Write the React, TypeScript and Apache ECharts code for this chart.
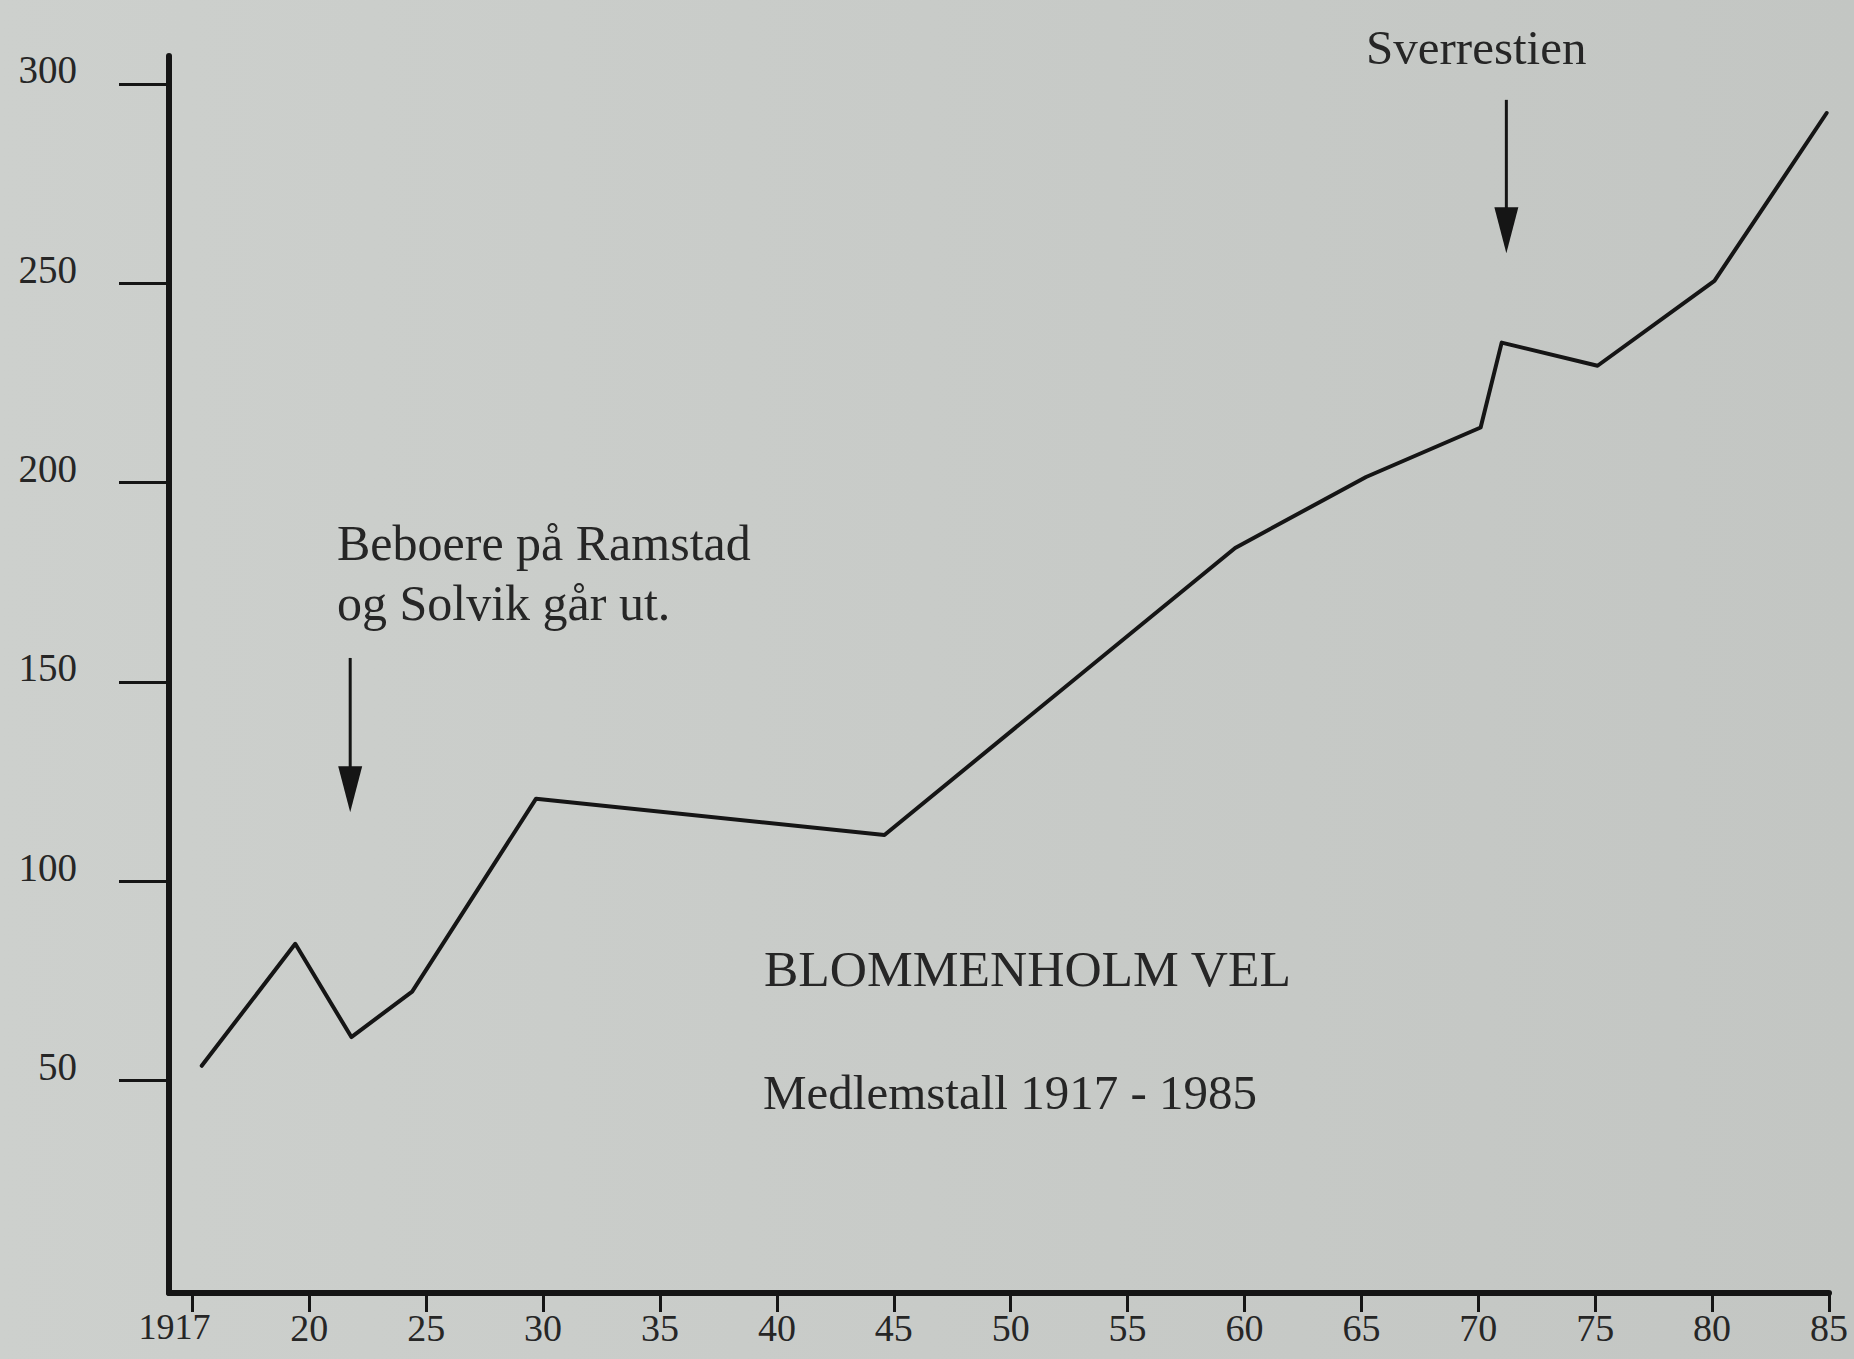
import React, { useEffect, useRef } from "react";
import * as echarts from "echarts";

// Data (year position, number of members)
const years = [1915.4, 1919.4, 1921.8, 1924.4, 1929.7, 1944.6, 1959.6, 1965.2, 1970.1, 1971.0, 1975.1, 1980.1, 1984.9];
const members = [53.7, 84.3, 60.9, 72.3, 120.7, 111.6, 183.6, 201.4, 213.8, 235.1, 229.3, 250.6, 292.7];

// Axis ticks and labels as printed
const xTickValues = [1915, 1920, 1925, 1930, 1935, 1940, 1945, 1950, 1955, 1960, 1965, 1970, 1975, 1980, 1985];
const xTickLabels = ["1917", "20", "25", "30", "35", "40", "45", "50", "55", "60", "65", "70", "75", "80", "85"];
const yTickValues = [50, 100, 150, 200, 250, 300];

// Annotations
const titleLines = ["BLOMMENHOLM VEL", "Medlemstall 1917 - 1985"];
const noteLeft = ["Beboere på Ramstad", "og Solvik går ut."];
const noteRight = "Sverrestien";
const arrowLeft = { x: 1921.75, from: 156, to: 117.3 };
const arrowRight = { x: 1971.2, from: 296, to: 257.5 };

const FONT = "'Liberation Serif', 'Times New Roman', serif";
const INK = "#151515";
const TEXT = "#262626";

export default function App() {
  const ref = useRef<HTMLDivElement>(null);

  useEffect(() => {
    if (!ref.current) return;
    const chart = echarts.init(ref.current, null, { renderer: "svg" });
    const data = years.map((y, i) => [y, members[i]]);

    chart.setOption({
      animation: false,
      backgroundColor: {
        type: "linear",
        x: 0, y: 0, x2: 1, y2: 0,
        colorStops: [
          { offset: 0, color: "#cdd0cd" },
          { offset: 1, color: "#c3c6c3" },
        ],
      },
      grid: { left: 169, right: 25, top: 56, bottom: 66, containLabel: false },
      xAxis: {
        type: "value",
        min: 1914,
        max: 1985,
        axisLine: { show: true, onZero: false, lineStyle: { color: INK, width: 6 } },
        axisTick: { show: true, length: 19, lineStyle: { color: INK, width: 3 }, customValues: xTickValues },
        splitLine: { show: false },
        axisLabel: {
          customValues: xTickValues,
          margin: 16,
          color: TEXT,
          fontFamily: FONT,
          fontSize: 38,
          formatter: (v: number) => {
            const i = xTickValues.indexOf(Math.round(v));
            const s = i >= 0 ? xTickLabels[i] : "";
            return i === 0 ? "{a|" + s + "}" : "{b|" + s + "}";
          },
          rich: {
            a: { fontFamily: FONT, fontSize: 36, color: TEXT, padding: [0, 36, 0, 0] },
            b: { fontFamily: FONT, fontSize: 38, color: TEXT },
          },
        },
      },
      yAxis: {
        type: "value",
        min: -3.3,
        max: 307,
        axisLine: { show: true, onZero: false, lineStyle: { color: INK, width: 6 } },
        axisTick: { show: true, length: 50, lineStyle: { color: INK, width: 3 }, customValues: yTickValues },
        splitLine: { show: false },
        axisLabel: {
          customValues: yTickValues,
          margin: 92,
          color: TEXT,
          fontFamily: FONT,
          fontSize: 39,
          formatter: (v: number) => "{a|" + Math.round(v) + "}",
          rich: {
            a: { fontFamily: FONT, fontSize: 39, color: TEXT, padding: [0, 0, 28, 0] },
          },
        },
      },
      series: [
        {
          type: "line",
          data,
          symbol: "none",
          lineStyle: { color: INK, width: 4, join: "round", cap: "round" },
          z: 5,
        },
      ],
    });

    const px = (x: number, y: number) =>
      chart.convertToPixel({ xAxisIndex: 0, yAxisIndex: 0 }, [x, y]) as number[];

    const arrow = (a: { x: number; from: number; to: number }) => {
      const top = px(a.x, a.from);
      const tip = px(a.x, a.to);
      return [
        {
          type: "line",
          shape: { x1: top[0], y1: top[1], x2: tip[0], y2: tip[1] - 30 },
          style: { stroke: INK, lineWidth: 3 },
          z: 10,
        },
        {
          type: "polygon",
          shape: {
            points: [
              [tip[0] - 12, tip[1] - 46],
              [tip[0] + 12, tip[1] - 46],
              [tip[0], tip[1]],
            ],
          },
          style: { fill: INK },
          z: 10,
        },
      ];
    };

    const txt = (s: string, x: number, y: number, size = 49) => ({
      type: "text",
      x,
      y,
      style: {
        text: s,
        fill: TEXT,
        font: `${size}px ${FONT}`,
        fontFamily: FONT,
        fontSize: size,
        align: "left",
        verticalAlign: "middle",
      },
      z: 10,
    });

    chart.setOption({
      graphic: [
        ...arrow(arrowLeft),
        ...arrow(arrowRight),
        txt(noteLeft[0], 337, 543, 50),
        txt(noteLeft[1], 337, 603, 50),
        txt(noteRight, 1366, 47, 49),
        txt(titleLines[0], 764, 968, 51.5),
        txt(titleLines[1], 763, 1092, 49),
      ],
    });

    return () => chart.dispose();
  }, []);

  return (
    <div
      ref={ref}
      style={{ position: "fixed", left: 0, top: 0, width: 1854, height: 1359 }}
    />
  );
}
